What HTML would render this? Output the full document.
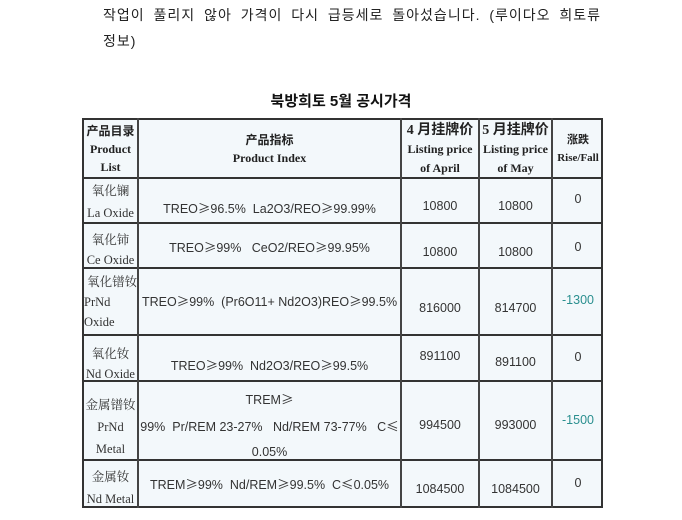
<!DOCTYPE html>
<html><head><meta charset="utf-8"><style>
body{margin:0;width:682px;height:520px;background:#fff;position:relative;overflow:hidden;font-family:"Liberation Sans","Noto Sans CJK KR",sans-serif}
.a{position:absolute;white-space:nowrap}
.p{font-size:14px;color:#222}
.tb{position:absolute;left:82px;top:118px;width:521px;height:390px;background:#f3f8fb;border:2px solid #333;box-sizing:border-box}
.h{position:absolute;left:82px;width:521px;height:2px;background:#333}
.v{position:absolute;top:118px;width:2px;height:390px;background:#444}
.s{font-family:"Liberation Serif","Noto Serif CJK SC",serif;font-size:12.5px;color:#333;text-align:center}
.sb{font-family:"Liberation Serif","Noto Sans CJK SC",serif;font-weight:bold;font-size:12px;color:#222;text-align:center;line-height:18px}
.c{font-size:12.5px;color:#333;text-align:center}
.g{color:#2a8f8f}
i{font-style:normal;font-family:"Noto Sans CJK SC",sans-serif}
</style></head><body>
<div class="a p" style="left:103px;top:5px;letter-spacing:1px;word-spacing:4px">작업이 풀리지 않아 가격이 다시 급등세로 돌아섰습니다. (루이다오 희토류</div>
<div class="a p" style="left:103px;top:31px;letter-spacing:1px">정보)</div>
<div class="a" style="left:0;width:682px;top:90px;text-align:center;font-weight:bold;font-size:15px;color:#111">북방희토 5월 공시가격</div>
<div class="tb"></div>
<div class="h" style="top:177px"></div><div class="h" style="top:222px"></div><div class="h" style="top:267px"></div><div class="h" style="top:334px"></div><div class="h" style="top:380px"></div><div class="h" style="top:459px"></div>
<div class="v" style="left:137px"></div><div class="v" style="left:400px"></div><div class="v" style="left:478px"></div><div class="v" style="left:551px"></div>

<div class="a sb" style="left:84px;width:53px;top:122px;line-height:18px">产品目录<br>Product<br>List</div>
<div class="a sb" style="left:139px;width:261px;top:131px">产品指标<br>Product Index</div>
<div class="a sb" style="left:402px;width:76px;top:121px;line-height:19px"><span style="font-size:14px">4 月挂牌价</span><br>Listing price<br>of April</div>
<div class="a sb" style="left:480px;width:71px;top:121px;line-height:19px"><span style="font-size:14px">5 月挂牌价</span><br>Listing price<br>of May</div>
<div class="a sb" style="left:553px;width:50px;top:131px;font-size:11px">涨跌<br>Rise/Fall</div>

<div class="a s" style="left:84px;width:53px;top:180px;line-height:22px">氧化镧<br>La Oxide</div>
<div class="a c" style="left:139px;width:261px;top:198px">TREO<i>≥</i>96.5%&nbsp; La2O3/REO<i>≥</i>99.99%</div>
<div class="a c" style="left:402px;width:76px;top:199px">10800</div>
<div class="a c" style="left:480px;width:71px;top:199px">10800</div>
<div class="a c" style="left:553px;width:50px;top:192px">0</div>

<div class="a s" style="left:84px;width:53px;top:230px;line-height:20px">氧化铈<br>Ce Oxide</div>
<div class="a c" style="left:139px;width:261px;top:237px">TREO<i>≥</i>99%&nbsp;&nbsp; CeO2/REO<i>≥</i>99.95%</div>
<div class="a c" style="left:402px;width:76px;top:245px">10800</div>
<div class="a c" style="left:480px;width:71px;top:245px">10800</div>
<div class="a c" style="left:553px;width:50px;top:240px">0</div>

<div class="a s" style="left:84px;top:272px;line-height:20px;text-align:left">&nbsp;氧化镨钕<br>PrNd<br>Oxide</div>
<div class="a c" style="left:139px;width:261px;top:291px">TREO<i>≥</i>99%&nbsp; (Pr6O11+ Nd2O3)REO<i>≥</i>99.5%</div>
<div class="a c" style="left:402px;width:76px;top:301px">816000</div>
<div class="a c" style="left:480px;width:71px;top:301px">814700</div>
<div class="a c g" style="left:553px;width:50px;top:293px">-1300</div>

<div class="a s" style="left:84px;width:53px;top:344px;line-height:20px">氧化钕<br>Nd Oxide</div>
<div class="a c" style="left:139px;width:261px;top:355px">TREO<i>≥</i>99%&nbsp; Nd2O3/REO<i>≥</i>99.5%</div>
<div class="a c" style="left:402px;width:76px;top:349px">891100</div>
<div class="a c" style="left:480px;width:71px;top:355px">891100</div>
<div class="a c" style="left:553px;width:50px;top:350px">0</div>

<div class="a s" style="left:84px;width:53px;top:394px;line-height:22px">金属镨钕<br>PrNd<br>Metal</div>
<div class="a c" style="left:139px;width:261px;top:386px;line-height:25px">TREM<i>≥</i><br>99%&nbsp; Pr/REM 23-27%&nbsp;&nbsp; Nd/REM 73-77%&nbsp;&nbsp; C<i>≤</i><br>0.05%</div>
<div class="a c" style="left:402px;width:76px;top:418px">994500</div>
<div class="a c" style="left:480px;width:71px;top:418px">993000</div>
<div class="a c g" style="left:553px;width:50px;top:413px">-1500</div>

<div class="a s" style="left:84px;width:53px;top:466px;line-height:22px">金属钕<br>Nd Metal</div>
<div class="a c" style="left:139px;width:261px;top:474px">TREM<i>≥</i>99%&nbsp; Nd/REM<i>≥</i>99.5%&nbsp; C<i>≤</i>0.05%</div>
<div class="a c" style="left:402px;width:76px;top:482px">1084500</div>
<div class="a c" style="left:480px;width:71px;top:482px">1084500</div>
<div class="a c" style="left:553px;width:50px;top:476px">0</div>
</body></html>
